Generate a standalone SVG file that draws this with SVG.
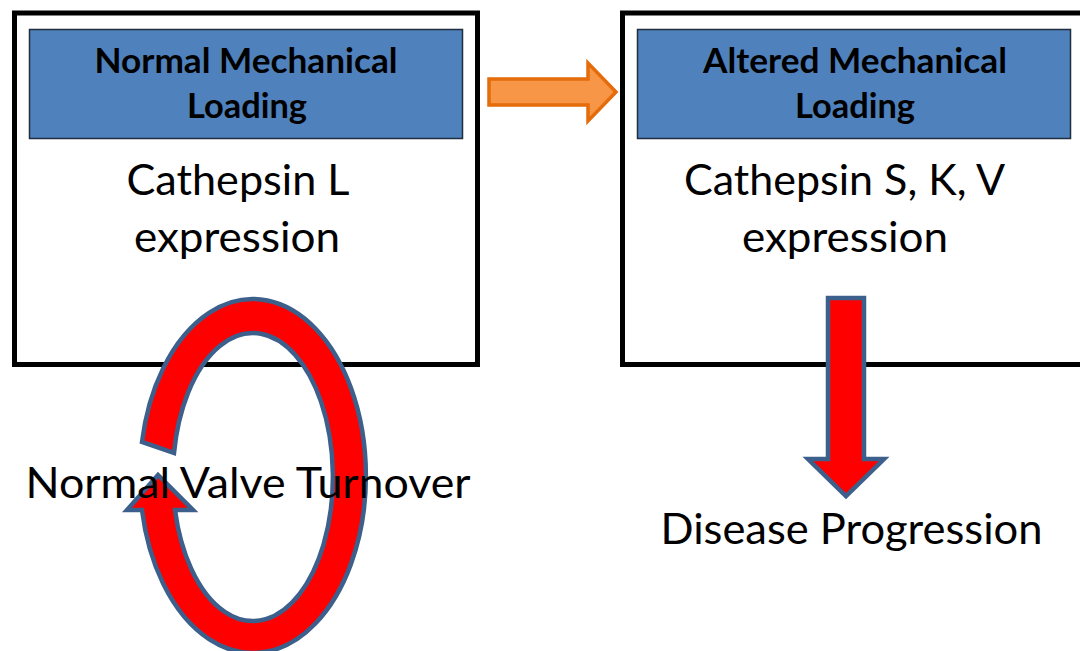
<svg xmlns="http://www.w3.org/2000/svg" width="1080" height="651" viewBox="0 0 1080 651">
  <style>
    .frame { fill: #ffffff; stroke: #000000; stroke-width: 5; }
    .header { fill: #4F81BD; stroke: #1F2D3D; stroke-width: 1.5; }
    .head-text { font-family: Lato, "Open Sans", sans-serif; font-weight: bold; font-size: 34px; fill: #000000; text-anchor: middle; }
    .body-text { font-family: Lato, "Open Sans", sans-serif; font-size: 43px; fill: #000000; text-anchor: middle; }
    .red-arrow { fill: #FF0000; stroke: #3D5F8C; stroke-width: 4.5; stroke-linejoin: miter; }
    .orange-arrow { fill: #F79646; stroke: #E46C0A; stroke-width: 3.5; }
  </style>

  <rect width="1080" height="651" fill="#ffffff"/>

  <!-- Normal loading box -->
  <g id="normal-loading">
    <rect class="frame" x="14.5" y="13" width="463" height="351.5"/>
    <rect class="header" x="29.5" y="29.5" width="433" height="109"/>
    <text class="head-text" x="246" y="73" textLength="303" lengthAdjust="spacingAndGlyphs">Normal Mechanical</text>
    <text class="head-text" x="247" y="118" textLength="120" lengthAdjust="spacingAndGlyphs">Loading</text>
    <text class="body-text" x="238" y="195" textLength="223" lengthAdjust="spacingAndGlyphs">Cathepsin L</text>
    <text class="body-text" x="237" y="252" textLength="206" lengthAdjust="spacingAndGlyphs">expression</text>
  </g>

  <!-- Altered loading box (runs past the right edge) -->
  <g id="altered-loading">
    <rect class="frame" x="622.5" y="13" width="480" height="351.5"/>
    <rect class="header" x="637.5" y="29.5" width="433" height="109"/>
    <text class="head-text" x="855" y="73" textLength="304" lengthAdjust="spacingAndGlyphs">Altered Mechanical</text>
    <text class="head-text" x="855" y="118" textLength="120" lengthAdjust="spacingAndGlyphs">Loading</text>
    <text class="body-text" x="844.5" y="195" textLength="321" lengthAdjust="spacingAndGlyphs">Cathepsin S, K, V</text>
    <text class="body-text" x="845" y="252" textLength="206" lengthAdjust="spacingAndGlyphs">expression</text>
  </g>

  <!-- Connectors -->
  <g id="connectors">
    <!-- block arrow between the two boxes -->
    <path class="orange-arrow" d="M489,79 L588,79 L588,63 L616,92 L588,121 L588,105 L489,105 Z"/>
    <!-- block arrow down to disease progression -->
    <path class="red-arrow" d="M828,298 L864,298 L864,459 L884,459 L846,496 L808,459 L828,459 Z"/>
    <!-- circular turnover arrow -->
    <path class="red-arrow" d="M142,442 A113,177 0 1 1 142,510 L127,510 L158,475 L193,510 L175,510 A80,144 0 1 0 174,453 Z"/>
  </g>

  <!-- Free-standing labels -->
  <g id="turnover-label">
    <text class="body-text" x="248" y="498" textLength="445" lengthAdjust="spacingAndGlyphs">Normal Valve Turnover</text>
  </g>
  <g id="disease-label">
    <text class="body-text" x="851.5" y="544" textLength="382" lengthAdjust="spacingAndGlyphs">Disease Progression</text>
  </g>
</svg>
